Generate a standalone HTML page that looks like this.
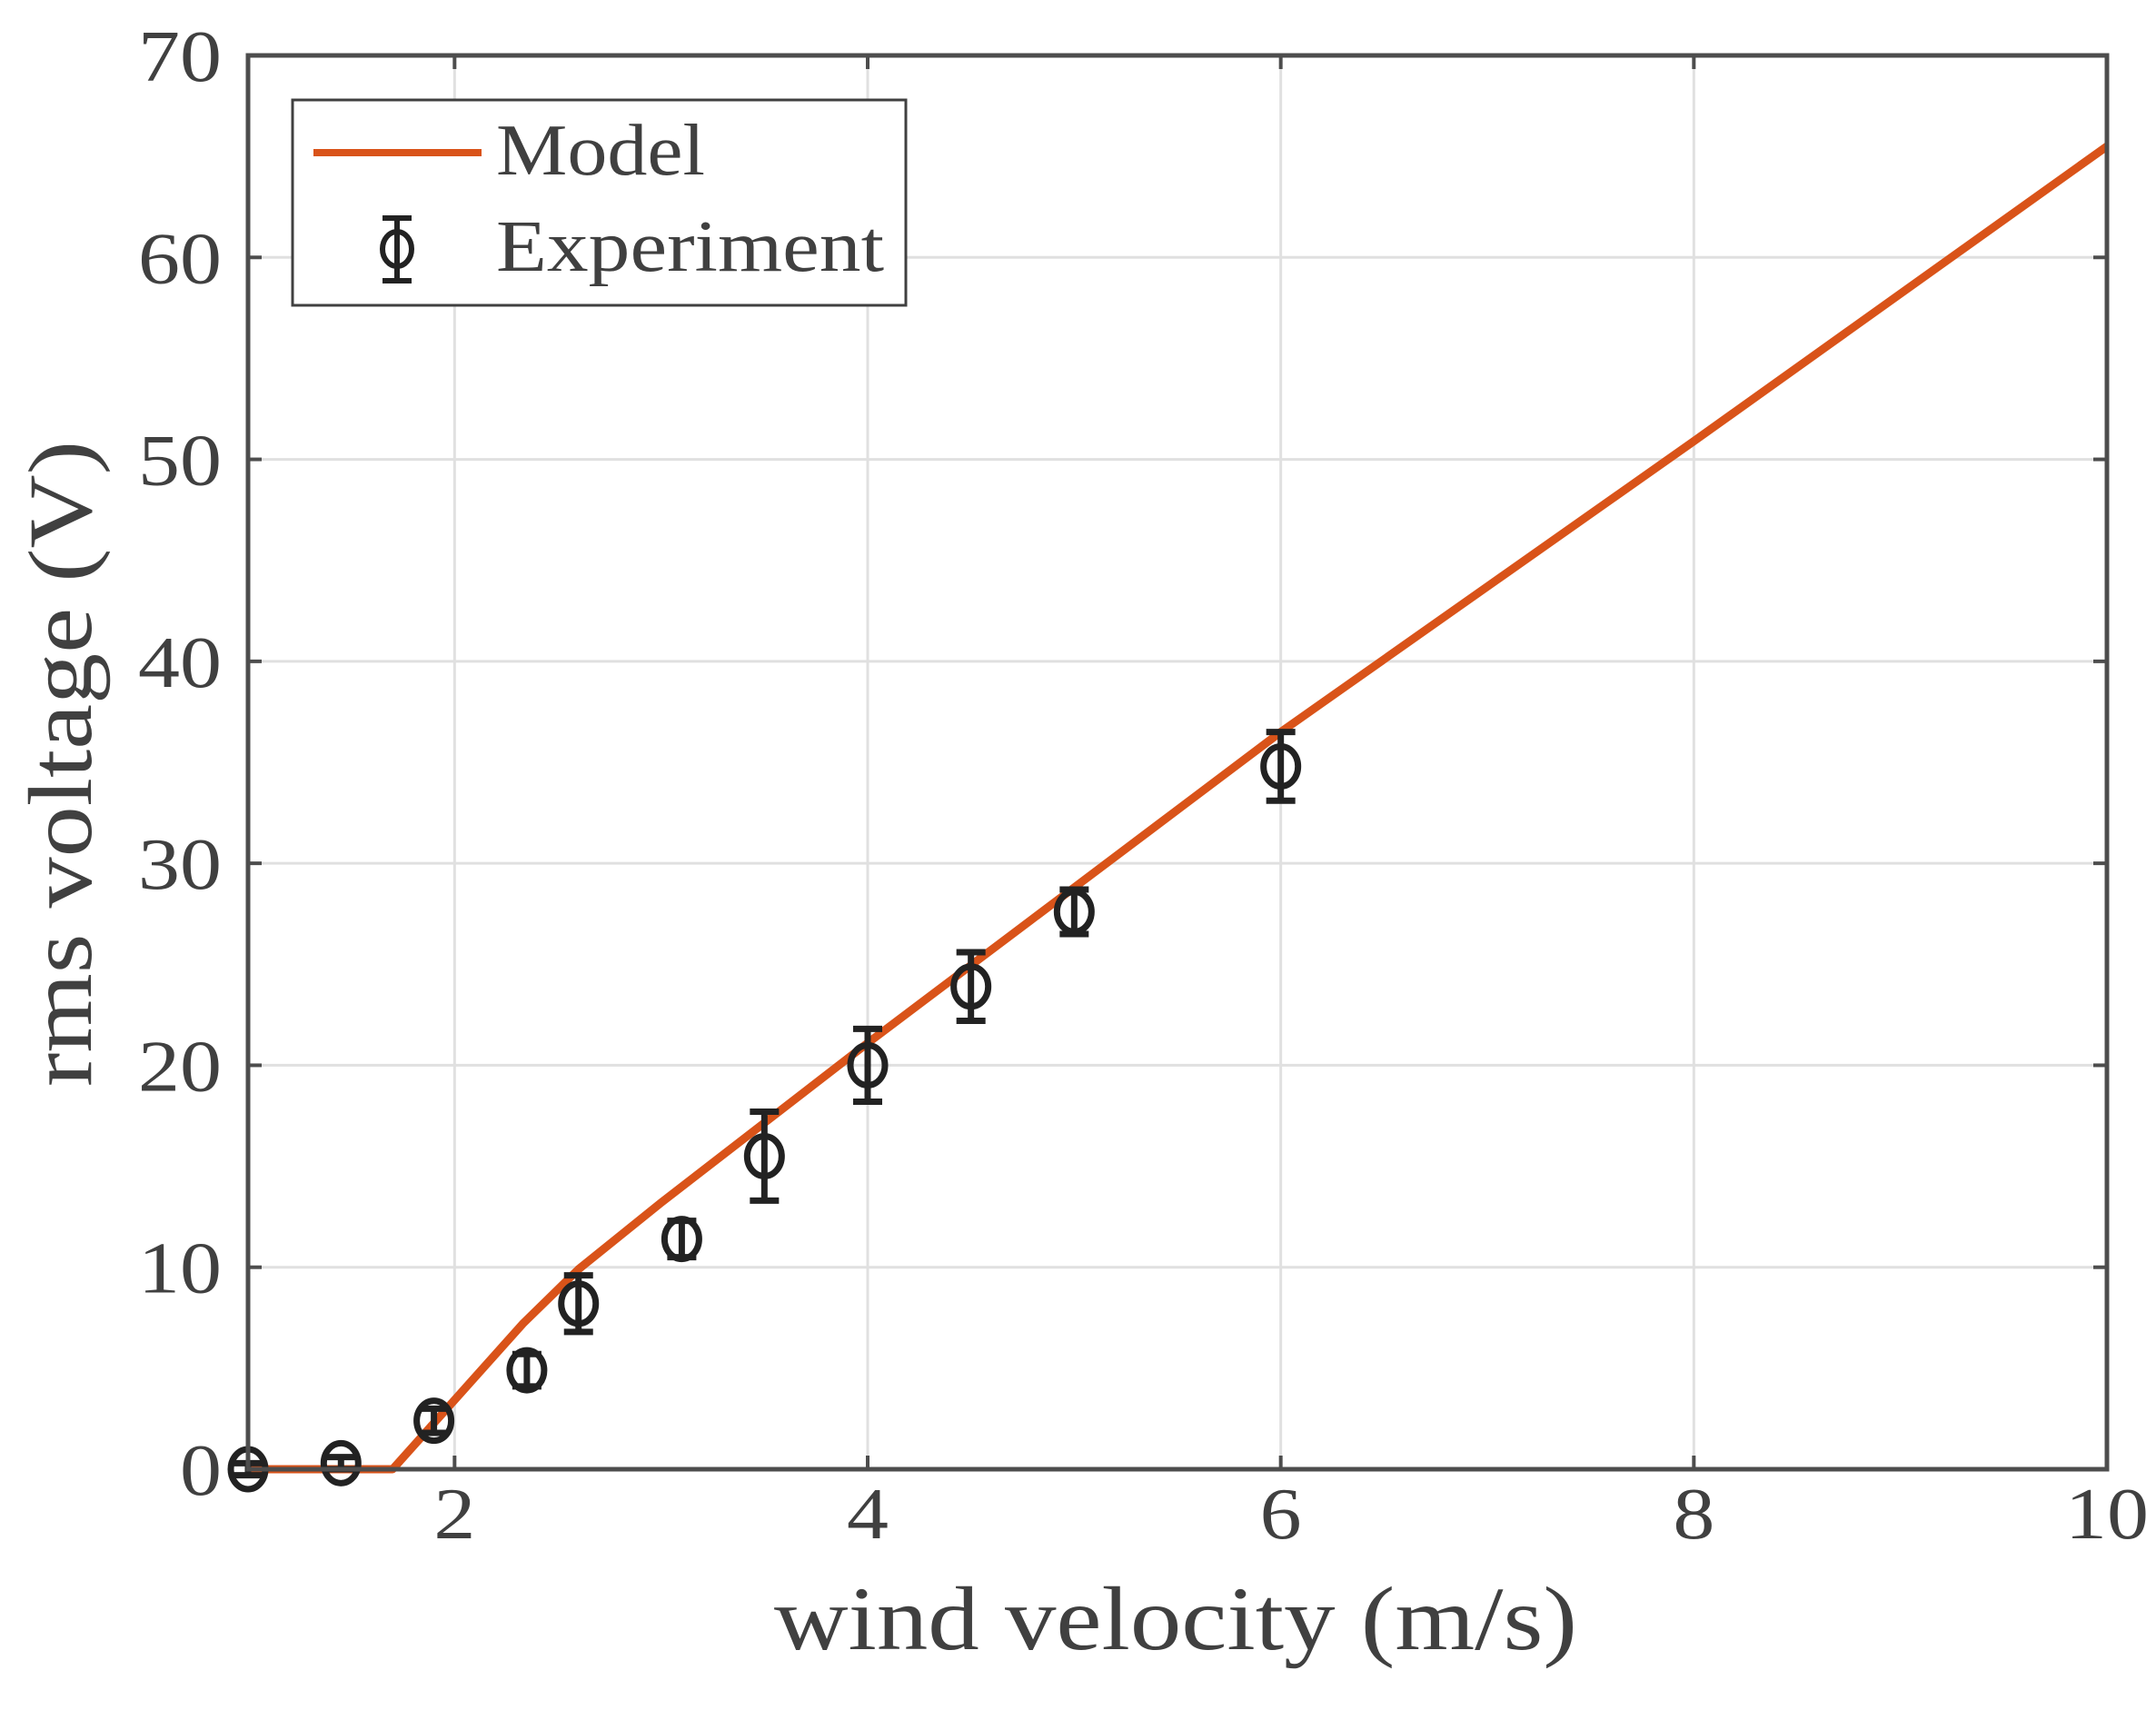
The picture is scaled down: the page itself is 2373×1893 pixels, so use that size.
<!DOCTYPE html>
<html><head><meta charset="utf-8"><style>
html,body{margin:0;padding:0;background:#fff;}
svg{display:block;}
text{font-family:"Liberation Serif",serif;fill:#404040;}
</style></head><body>
<svg id="chart" width="2373" height="1893" viewBox="0 0 2373 1893" xmlns="http://www.w3.org/2000/svg">
<g id="grid"></g>
<g id="model"></g>
<g id="exp"></g>
<g id="axes"></g>
<text x="852" y="1815" font-size="100" textLength="884" lengthAdjust="spacingAndGlyphs">wind velocity (m/s)</text>
<text x="0" y="0" font-size="100" textLength="711" lengthAdjust="spacingAndGlyphs" transform="translate(100,1196) rotate(-90)">rms voltage (V)</text>
<g>
<rect x="322" y="110" width="675" height="226" fill="#fff" stroke="#404040" stroke-width="3"/>
<line x1="345" y1="168" x2="530" y2="168" stroke="#d95319" stroke-width="8"/>
<text x="546" y="192" font-size="80" fill="#222" textLength="230" lengthAdjust="spacingAndGlyphs">Model</text>
<g stroke="#222" stroke-width="6" fill="none">
<line x1="437" y1="240" x2="437" y2="309"/><line x1="421" y1="240" x2="453" y2="240"/><line x1="421" y1="309" x2="453" y2="309"/>
<ellipse cx="437" cy="274" rx="16" ry="19"/>
</g>
<text x="546" y="298" font-size="80" fill="#222" textLength="427" lengthAdjust="spacingAndGlyphs">Experiment</text>
</g>
</svg>
<script>
const modelX=[1,1.7,2.33,2.6,3,4,5,6,8,10];
const modelY=[0,0,7.2,9.9,13.2,21.1,28.8,36.5,50.9,65.5];
const expX=[1,1.45,1.9,2.35,2.6,3.1,3.5,4,4.5,5,6];
const expY=[0,0.3,2.4,4.9,8.2,11.4,15.5,20,23.9,27.6,34.8];
const expErr=[0.3,0.3,0.6,0.8,1.4,0.9,2.2,1.8,1.7,1.1,1.7];
const xTicks=[2,4,6,8,10];
const yTicks=[0,10,20,30,40,50,60,70];
const L=273,R=2319,T=61,B=1617,X0=1,X1=10,Y0=0,Y1=70;
const sx=v=>L+(v-X0)/(X1-X0)*(R-L);
const sy=v=>B-(v-Y0)/(Y1-Y0)*(B-T);
const NS="http://www.w3.org/2000/svg";
function mk(tag,attrs,parent){const e=document.createElementNS(NS,tag);for(const k in attrs)e.setAttribute(k,attrs[k]);parent.appendChild(e);return e;}
const grid=document.getElementById('grid'),axes=document.getElementById('axes');
xTicks.forEach(t=>{
 const g=mk('line',{x1:sx(t),x2:sx(t),y1:T,y2:B,stroke:'#e0e0e0','stroke-width':3},grid);
 
 
 [[B,B-15],[T,T+15]].forEach(p=>{const k=mk('line',{x1:sx(t),x2:sx(t),y1:p[0],y2:p[1],stroke:'#4d4d4d','stroke-width':4},axes);
 
 });
 const tx=mk('text',{x:sx(t),y:1693,'font-size':80,'text-anchor':'middle',textLength:String(t).length*46,lengthAdjust:'spacingAndGlyphs'},axes);tx.textContent=t;
 
 
});
yTicks.forEach(t=>{
 const g=mk('line',{x1:L,x2:R,y1:sy(t),y2:sy(t),stroke:'#e0e0e0','stroke-width':3},grid);
 
 
 [[L,L+15],[R,R-15]].forEach(p=>{const k=mk('line',{x1:p[0],x2:p[1],y1:sy(t),y2:sy(t),stroke:'#4d4d4d','stroke-width':4},axes);
 
 });
 const tx=mk('text',{x:244,y:sy(t)+28,'font-size':80,'text-anchor':'end',textLength:String(t).length*46,lengthAdjust:'spacingAndGlyphs'},axes);tx.textContent=t;
 
 
});
const frame=mk('rect',{x:L,y:T,width:R-L,height:B-T,fill:'none',stroke:'#4d4d4d','stroke-width':5},axes);


const ml=mk('polyline',{points:modelX.map((x,i)=>sx(x)+','+sy(modelY[i])).join(' '),fill:'none',stroke:'#d95319','stroke-width':9,'stroke-linejoin':'round'},document.getElementById('model'));


const eg=document.getElementById('exp');
expX.forEach((x,i)=>{
 const g=mk('g',{stroke:'#222','stroke-width':7,fill:'none'},eg);
 
 
 const cx=sx(x),y1=sy(expY[i]-expErr[i]),y2=sy(expY[i]+expErr[i]);
 mk('line',{x1:cx,x2:cx,y1:y1,y2:y2},g);
 mk('line',{x1:cx-16,x2:cx+16,y1:y1,y2:y1},g);
 mk('line',{x1:cx-16,x2:cx+16,y1:y2,y2:y2},g);
 mk('ellipse',{cx:cx,cy:sy(expY[i]),rx:19,ry:22},g);
});
</script>
</body></html>
